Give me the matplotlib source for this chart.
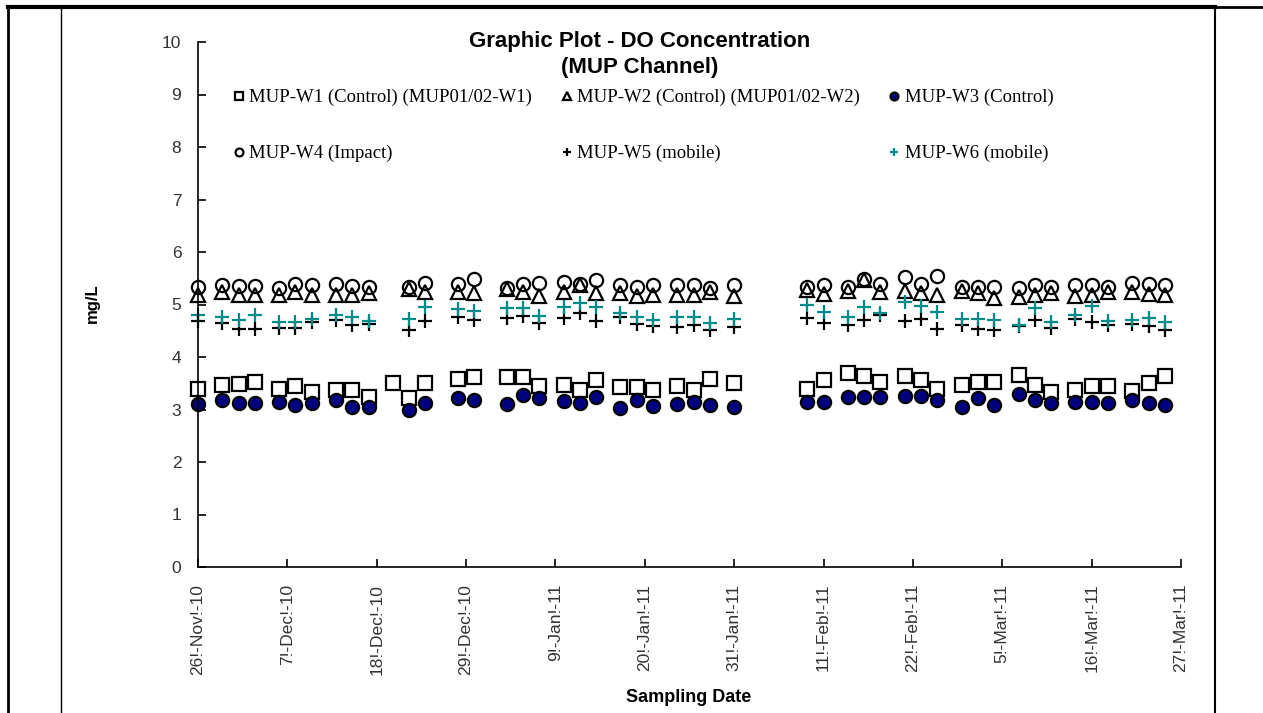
import datetime as dt
import numpy as np
import matplotlib
matplotlib.use("Agg")
import matplotlib.pyplot as plt
from matplotlib.lines import Line2D

nan = np.nan

sample_dates = [
    "2010-11-26", "2010-11-29", "2010-12-01", "2010-12-03", "2010-12-06", "2010-12-08",
    "2010-12-10", "2010-12-13", "2010-12-15", "2010-12-17", "2010-12-20", "2010-12-22",
    "2010-12-24", "2010-12-28", "2010-12-30", "2011-01-03", "2011-01-05", "2011-01-07",
    "2011-01-10", "2011-01-12", "2011-01-14", "2011-01-17", "2011-01-19", "2011-01-21",
    "2011-01-24", "2011-01-26", "2011-01-28", "2011-01-31", "2011-02-09", "2011-02-11",
    "2011-02-14", "2011-02-16", "2011-02-18", "2011-02-21", "2011-02-23", "2011-02-25",
    "2011-02-28", "2011-03-02", "2011-03-04", "2011-03-07", "2011-03-09", "2011-03-11",
    "2011-03-14", "2011-03-16", "2011-03-18", "2011-03-21", "2011-03-23", "2011-03-25",
]

w1 = [3.40, 3.47, 3.48, 3.53, 3.40, 3.44, 3.34, 3.38, 3.37, 3.24, 3.50, 3.21,
      3.50, 3.59, 3.61, 3.61, 3.61, 3.44, 3.47, 3.38, 3.56, 3.42, 3.42, 3.38,
      3.44, 3.37, 3.59, 3.50, 3.40, 3.56, 3.69, 3.64, 3.53, 3.64, 3.56, 3.40,
      3.47, 3.53, 3.53, 3.66, 3.47, 3.34, 3.37, 3.44, 3.44, 3.36, 3.50, 3.64]
w2 = [5.18, 5.24, 5.18, 5.18, 5.18, 5.24, 5.18, 5.18, 5.18, 5.21, nan, 5.30,
      5.24, 5.24, 5.21, 5.30, 5.24, 5.16, 5.24, 5.37, 5.21, 5.21, 5.16, 5.18,
      5.18, 5.18, 5.24, 5.16, 5.27, 5.20, 5.26, 5.47, 5.24, 5.26, 5.21, 5.18,
      5.26, 5.22, 5.12, 5.15, 5.18, 5.21, 5.16, 5.18, 5.24, 5.24, 5.20, 5.18]
w3 = [3.10, 3.18, 3.12, 3.13, 3.15, 3.09, 3.13, 3.18, 3.05, 3.05, nan, 2.99,
      3.12, 3.21, 3.19, 3.11, 3.28, 3.21, 3.17, 3.13, 3.23, 3.02, 3.18, 3.07,
      3.11, 3.15, 3.09, 3.05, 3.15, 3.15, 3.23, 3.23, 3.23, 3.26, 3.26, 3.19,
      3.05, 3.21, 3.09, 3.30, 3.18, 3.13, 3.15, 3.15, 3.13, 3.19, 3.12, 3.09]
w4 = [5.33, 5.37, 5.35, 5.35, 5.31, 5.39, 5.37, 5.40, 5.35, 5.34, nan, 5.34,
      5.41, 5.40, 5.48, 5.31, 5.40, 5.41, 5.43, 5.39, 5.47, 5.37, 5.34, 5.37,
      5.37, 5.37, 5.31, 5.37, 5.34, 5.37, 5.34, 5.48, 5.39, 5.53, 5.39, 5.54,
      5.34, 5.34, 5.33, 5.31, 5.37, 5.34, 5.37, 5.37, 5.34, 5.41, 5.39, 5.37]
w5 = [4.69, 4.64, 4.53, 4.54, 4.56, 4.56, 4.67, 4.71, 4.61, 4.62, nan, 4.51,
      4.69, 4.77, 4.71, 4.74, 4.78, 4.64, 4.75, 4.83, 4.69, 4.77, 4.63, 4.59,
      4.58, 4.61, 4.51, 4.58, 4.75, 4.64, 4.61, 4.71, 4.80, 4.69, 4.72, 4.54,
      4.61, 4.54, 4.51, 4.59, 4.71, 4.56, 4.72, 4.67, 4.61, 4.63, 4.59, 4.52]
w6 = [4.80, 4.77, 4.71, 4.80, 4.67, 4.67, 4.72, 4.80, 4.77, 4.69, nan, 4.72,
      4.95, 4.91, 4.88, 4.93, 4.93, 4.78, 4.95, 5.02, 4.96, 4.84, 4.77, 4.71,
      4.77, 4.77, 4.65, 4.72, 4.99, 4.86, 4.77, 4.96, 4.83, 5.05, 4.97, 4.86,
      4.72, 4.72, 4.71, 4.61, 4.93, 4.67, 4.80, 4.97, 4.69, 4.71, 4.75, 4.67]

labels = [
    "MUP-W1 (Control) (MUP01/02-W1)",
    "MUP-W2 (Control) (MUP01/02-W2)",
    "MUP-W3 (Control)",
    "MUP-W4 (Impact)",
    "MUP-W5 (mobile)",
    "MUP-W6 (mobile)",
]

SANS = ["Liberation Sans", "DejaVu Sans"]
SERIF = ["Liberation Serif", "DejaVu Serif"]

W, H = 1263, 713
fig = plt.figure(figsize=(W / 100, H / 100), dpi=100)


def px(x, y):
    return x / W, 1 - y / H


ax_l, ax_r, ax_t, ax_b = 198, 1181, 42, 567
ax = fig.add_axes([ax_l / W, 1 - ax_b / H, (ax_r - ax_l) / W, (ax_b - ax_t) / H])

x = [dt.datetime.strptime(d, "%Y-%m-%d") for d in sample_dates]
ms = 9.5
mew = 1.6
styles = [
    dict(marker="s", mfc="none", mec="black"),
    dict(marker="^", mfc="none", mec="black"),
    dict(marker="o", mfc="#000080", mec="black"),
    dict(marker="o", mfc="none", mec="black"),
    dict(marker="+", mfc="none", mec="black"),
    dict(marker="+", mfc="none", mec="#008b8b"),
]
handles = []
for ys, lab, st in zip([w1, w2, w3, w4, w5, w6], labels, styles):
    (h,) = ax.plot(x, ys, linestyle="none", ms=ms, mew=mew, label=lab,
                   clip_on=False, **st)
    handles.append(h)

start = dt.datetime(2010, 11, 26)
end = dt.datetime(2011, 3, 27)
ax.set_xlim(start, end)
ax.set_ylim(0, 10)
ax.set_yticks(range(0, 11))

ticks = [start + dt.timedelta(days=11 * i) for i in range(12)]
ax.set_xticks(ticks)
ax.set_xticklabels([f"{d.day}!-{d:%b}!-{d:%y}" for d in ticks], rotation=90,
                   fontsize=12.5, family=SANS, color="#333333")
for t in ax.get_yticklabels():
    t.set_fontsize(12.5)
    t.set_family(SANS)
    t.set_color("#333333")

ax.tick_params(axis="both", direction="in", length=6, width=1.2, color="black")
ax.tick_params(axis="x", pad=12)
ax.tick_params(axis="y", pad=12)
for s in ["top", "right"]:
    ax.spines[s].set_visible(False)
for s in ["left", "bottom"]:
    ax.spines[s].set_linewidth(1.2)

# legend: row-major order in 3 columns
order = [0, 3, 1, 4, 2, 5]
leg = ax.legend([handles[i] for i in order], [labels[i] for i in order],
                ncol=3, frameon=False, markerscale=0.6,
                prop={"family": SERIF, "size": 13.5},
                handlelength=0.6, handletextpad=0.25, columnspacing=1.55,
                labelspacing=2.07, loc="upper left",
                bbox_to_anchor=px(233, 89), bbox_transform=fig.transFigure,
                borderaxespad=0, borderpad=0)

fig.text(*px(640, 42), "Graphic Plot - DO Concentration", ha="center", va="center",
         fontsize=16, fontweight="bold", family=SANS)
fig.text(*px(640, 68), "(MUP Channel)", ha="center", va="center",
         fontsize=16, fontweight="bold", family=SANS)
fig.text(*px(92, 303), "mg/L", rotation=90, ha="center", va="center",
         fontsize=12, fontweight="bold", family=SANS)
fig.text(*px(689, 697), "Sampling Date", ha="center", va="center",
         fontsize=13, fontweight="bold", family=SANS)

# surrounding table frame
frame = [
    ((8, 7), (1215, 7), 3.0),
    ((1215, 7), (1263, 7), 2.0),
    ((8, 7), (8, 713), 2.0),
    ((61, 7), (61, 713), 1.0),
    ((1215, 7), (1215, 713), 1.5),
]
for (x0, y0), (x1, y1), lw in frame:
    a = px(x0, y0)
    b = px(x1, y1)
    fig.add_artist(Line2D([a[0], b[0]], [a[1], b[1]], color="black", lw=lw,
                          transform=fig.transFigure))

fig.savefig("out.png", dpi=100)
